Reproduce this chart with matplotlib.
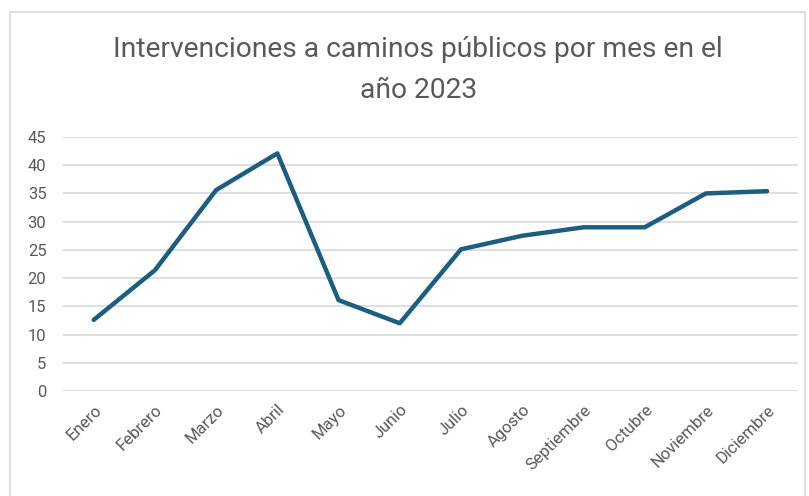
import matplotlib.pyplot as plt
from matplotlib.patches import Rectangle

# datos del gráfico
meses = ['Enero', 'Febrero', 'Marzo', 'Abril', 'Mayo', 'Junio', 'Julio',
         'Agosto', 'Septiembre', 'Octubre', 'Noviembre', 'Diciembre']
intervenciones = [12.6, 21.4, 35.6, 42.1, 16.1, 12.0, 25.1, 27.5, 29.0, 29.0, 35.0, 35.4]
yticks = list(range(0, 50, 5))

plt.rcParams['font.family'] = ['Roboto', 'DejaVu Sans']

fig = plt.figure(figsize=(8.09, 4.96), dpi=100)

# marco del gráfico (recortado abajo)
fig.patches.append(Rectangle((10 / 809, -0.05), 795 / 809, 1.05 - 12 / 496,
                             transform=fig.transFigure, fill=False,
                             edgecolor='#d9d9d9', linewidth=1.2))

ax = fig.add_axes([0.078, 0.2117, 0.908, 0.5121])
x = range(len(meses))
ax.plot(x, intervenciones, color='#1b5e80', linewidth=3.2, solid_capstyle='round',
        solid_joinstyle='round')

ax.set_xlim(-0.5, len(meses) - 0.5)
ax.set_ylim(0, 45)
ax.set_yticks(yticks)
ax.set_xticks(list(x))
ax.set_xticklabels(meses, rotation=45, ha='right', rotation_mode='anchor')
ax.tick_params(axis='both', length=0, labelsize=12, colors='#595959')
ax.tick_params(axis='y', pad=12)
ax.tick_params(axis='x', pad=8)

ax.grid(axis='y', color='#d9d9d9', linewidth=1.2)
ax.set_axisbelow(True)
for s in ax.spines.values():
    s.set_visible(False)

fig.text(0.517, 0.9, 'Intervenciones a caminos públicos por mes en el',
         ha='center', va='center', fontsize=20.3, color='#595959')
fig.text(0.517, 0.818, 'año 2023', ha='center', va='center', fontsize=20.3, color='#595959')

fig.savefig('out.png', dpi=100)
